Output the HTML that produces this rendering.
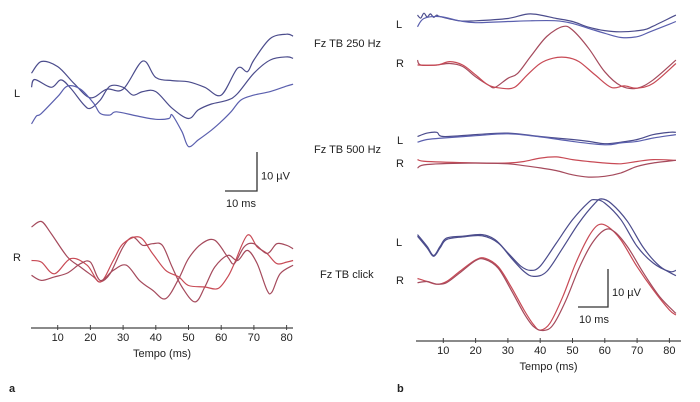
<!DOCTYPE html>
<html><head><meta charset="utf-8"><style>
body{margin:0;background:#fff;}
svg{display:block;font-family:"Liberation Sans",sans-serif;}
text{fill:#222;font-size:11px;}
</style></head><body>
<svg id="fig" width="700" height="402" viewBox="0 0 700 402"></svg>
<script>
// ---- Panel a data (ms, µV) ----
const aTicks=[10,20,30,40,50,60,70,80];
const aL1t=[2,5,10,15,20,25,30,36,40,45,50,55,60,65,68,70,75,80,82];
const aL1v=[4.3,7.3,6.0,1.7,-2.0,0.2,0.2,7.4,3.2,2.4,2.1,0.7,-1.3,5.6,4.7,7.7,13.2,14.3,13.8];
const aL2t=[2,3,8,11,14,18,20,23,26,30,33,36,40,45,50,53,57,62,65,70,75,80,82];
const aL2v=[0.7,2.7,0.7,2.6,0.4,-3.8,-4.7,-2.6,1.0,0.7,-1.3,-0.4,-0.4,-4.7,-7.3,-5.1,-3.6,-2.6,-0.9,4.3,7.7,8.5,8.1];
const aL3t=[2,3.5,5,10,13,17,21,23,26,28,35,40,44,45,48,50,53,57,60,63,66,70,75,80,82];
const aL3v=[-8.7,-6.7,-6.0,-1.7,1.0,0.2,-3.4,-6.0,-6.4,-5.6,-6.8,-7.5,-7.3,-6.4,-10.7,-14.5,-12.8,-10.3,-8.1,-5.6,-2.6,-1.3,-0.4,1.0,1.5];
const aR1t=[2,5,8,13,17,21,23,26,30,33,36,39,42,45,48,52,55,58,62,65,68,71,74,75.5,78,82];
const aR1v=[7.7,9.1,6.0,0,-2.6,-5.1,-6.4,-4.3,2.6,5.1,3.0,3.4,3.0,-2.6,-7.7,-11.5,-7.7,-2.6,0.4,-0.9,1.7,-1.7,-8.5,-9.0,-4.3,-2.1];
const aR2t=[2,5,9,14,19,23,27,30,35,39,43,47,50,55,59,62,64,68,71,74,77,80,82];
const aR2v=[-0.9,-1.3,-4.3,-0.4,-2.1,-6.4,-0.9,3.4,5.1,0.9,-3.4,-5.1,-7.3,-7.7,-8.1,-5.1,-1.7,5.6,2.6,0.9,-1.7,-1.3,-0.9];
const aR3t=[2,5,9,13,17,20,23,27,31,35,39,43,47,50,54,58,62,64,67,70,74,77,80,82];
const aR3v=[-4.7,-6.0,-5.1,-4.1,-1.7,-1.3,-6.0,-3.4,-2.1,-6.0,-8.5,-10.7,-5.6,-0.4,3.4,4.3,0,-1.7,2.6,3.4,0.9,3.4,3.0,2.1];
// ---- Panel b data ----
const bTicks=[10,20,30,40,50,60,70,80];
const b250L1t=[2,3,4,5,6,7,8,9,15,20,30,37,45,50,55,60,65,72,75,82];
const b250L1v=[1.3,0.5,1.8,0.8,1.6,0.7,1.3,0.9,-0.2,-0.2,0.4,1.6,0.4,-0.4,-1.9,-2.8,-3.1,-2.6,-1.6,1.3];
const b250L2t=[2,4,9,15,20,30,37,45,50,55,60,65,70,74,80,82];
const b250L2v=[-1.8,0.4,0.9,-0.2,-0.7,-0.4,-0.2,-0.2,-0.9,-2.2,-3.5,-4.6,-4.4,-3.1,-1.1,-0.4];
const b250R1t=[2,3,8,12,16,20,24,26,30,33,37,42,47,50,55,60,65,70,75,82];
const b250R1v=[1.3,0,0,0.4,-0.4,-3.1,-5.3,-5.9,-3.5,-2.2,2.2,7.5,10.1,9.2,4.4,-1.8,-5.5,-6.1,-3.9,1.3];
const b250R2t=[2,8,12,16,20,24,28,32,36,40,44,48,52,57,62,66,70,75,82];
const b250R2v=[0,0,0.9,0,-2.6,-5.3,-6.1,-5.9,-2.6,0.4,1.8,2.0,0.9,-2.6,-5.9,-5.5,-6.1,-4.8,0.4];
const b500L1t=[2,5,8,10,20,30,40,50,55,60,65,70,75,80,82];
const b500L1v=[0.4,1.3,1.5,0.4,0.9,1.3,0.4,-0.4,-0.9,-1.5,-1.1,-0.4,0.9,1.5,1.5];
const b500L2t=[2,5,10,20,30,40,50,60,65,70,75,82];
const b500L2v=[-1.1,-0.4,0,0.6,1.1,0.3,-0.9,-1.8,-1.3,-0.9,0,0.9];
const b500R1t=[2,5,20,30,35,40,45,50,55,60,65,70,75,82];
const b500R1v=[0.9,0.4,0,0,0.4,1.3,1.6,0.9,0.4,0,-0.2,0.4,0.9,0.7];
const b500R2t=[2,5,20,30,35,40,45,50,55,60,65,70,75,82];
const b500R2v=[-1.3,-0.4,0,-0.2,-0.7,-1.3,-2.0,-3.1,-3.7,-3.5,-2.6,-0.9,0,0.7];
const bClkL1t=[2,5,7,9,11,16,22,26,30,34,37,40,45,50,55,57,60,65,70,75,80,82];
const bClkL1v=[2.2,-0.9,-3.3,-0.9,1.3,1.8,2.2,0.9,-2.6,-6.1,-7.2,-6.1,0,6.1,10.7,11.4,10.5,6.1,-0.9,-5.3,-7.5,-7.2];
const bClkL2t=[2,5,7,9,11,16,22,27,31,35,38,42,47,52,57,59,62,67,72,77,82];
const bClkL2v=[1.8,-1.3,-3.5,-1.3,0.9,1.6,1.9,0,-3.9,-7.5,-8.8,-7.5,-1.3,5.3,10.5,11.6,10.4,5.7,-1.3,-6.1,-8.6];
const bClkR1t=[2,5,8,11,15,20,23,27,31,35,38,40,43,47,51,55,58,61,65,70,75,80,82];
const bClkR1v=[0.4,-0.4,-1.1,-0.4,2.2,5.3,5.7,3.5,-1.8,-7.9,-11.8,-13.2,-11.4,-4.4,4.4,11.4,14.5,14.0,10.5,3.5,-2.6,-7.9,-9.2];
const bClkR2t=[2,5,8,11,15,20,23,27,31,35,38,41,44,48,52,56,60,63,67,72,77,82];
const bClkR2v=[-0.7,-0.4,-1.1,-0.7,1.8,5.1,5.4,3.1,-2.6,-8.8,-12.3,-13.3,-11.8,-5.3,3.1,9.6,13.2,12.7,8.8,1.8,-4.4,-8.8];

const NS="http://www.w3.org/2000/svg";
const svg=document.getElementById('fig');
function mk(tag,attrs,parent){const e=document.createElementNS(NS,tag);for(const k in attrs)e.setAttribute(k,attrs[k]);(parent||svg).appendChild(e);return e;}
function txt(x,y,s,name,anchor){const t=mk('text',{x:x,y:y,'text-anchor':anchor||'start'});t.textContent=s;


return t;}
const axA=t=>25+3.27*t, axB=t=>411+3.23*t;
function yA(base){return v=>base-3.9*v;}
function yB(base){return v=>base-3.8*v;}
function smooth(pts){let d='M'+pts[0][0].toFixed(1)+','+pts[0][1].toFixed(1);
for(let i=0;i<pts.length-1;i++){const p0=pts[i-1]||pts[i],p1=pts[i],p2=pts[i+1],p3=pts[i+2]||p2;
const c1=[p1[0]+(p2[0]-p0[0])/6,p1[1]+(p2[1]-p0[1])/6],c2=[p2[0]-(p3[0]-p1[0])/6,p2[1]-(p3[1]-p1[1])/6];
d+='C'+c1.map(n=>n.toFixed(1))+' '+c2.map(n=>n.toFixed(1))+' '+p2.map(n=>n.toFixed(1));}return d;}
function trace(ts,vs,fx,fy,color,name){const pts=ts.map((t,i)=>[fx(t),fy(vs[i])]);
const p=mk('path',{d:smooth(pts),fill:'none',stroke:color,'stroke-width':1.2});

}
function axis(fx,y,ticks,x0,x1,labY,titleY,name){const g=mk('g',{});


mk('line',{x1:x0,x2:x1,y1:y,y2:y,stroke:'#444','stroke-width':1.2},g);
ticks.forEach(t=>{mk('line',{x1:fx(t),x2:fx(t),y1:y-3,y2:y+2,stroke:'#444','stroke-width':1},g);
const l=mk('text',{x:fx(t),y:labY,'text-anchor':'middle'},g);l.textContent=t;});
const tt=mk('text',{x:(x0+x1)/2,y:titleY,'text-anchor':'middle','font-size':12},g);tt.textContent='Tempo (ms)';}
function scalebar(x,yTop,yBot,len,nm){const g=mk('g',{});


mk('path',{d:`M${x},${yTop}V${yBot}H${x-len}`,fill:'none',stroke:'#333','stroke-width':1.3},g);
const a=mk('text',{x:x+4,y:(yTop+yBot)/2+8},g);a.textContent='10 µV';
const b=mk('text',{x:x-len+1,y:yBot+16},g);b.textContent='10 ms';}

const blue='#4b4c8c', blue2='#5a5fae', red='#a54a5c', red2='#c84a55';
// Panel a
const aLy=yA(90), aRy=yA(257);
trace(aL1t,aL1v,axA,aLy,blue,'a-left-trace-1');
trace(aL2t,aL2v,axA,aLy,blue,'a-left-trace-2');
trace(aL3t,aL3v,axA,aLy,blue2,'a-left-trace-3');
trace(aR1t,aR1v,axA,aRy,red,'a-right-trace-1');
trace(aR2t,aR2v,axA,aRy,red2,'a-right-trace-2');
trace(aR3t,aR3v,axA,aRy,red,'a-right-trace-3');
txt(14,97,'L','a-label-left');txt(13,261,'R','a-label-right');
scalebar(257,152,191,32,'a-scale-bar');
axis(axA,328,aTicks,31,293,341,357,'a-x-axis');
txt(9,392,'a','panel-label-a').setAttribute('font-weight','bold');
// Panel b
trace(b250L1t,b250L1v,axB,yB(20),blue,'b-250-left-trace-1');
trace(b250L2t,b250L2v,axB,yB(20),blue2,'b-250-left-trace-2');
trace(b250R1t,b250R1v,axB,yB(65),red,'b-250-right-trace-1');
trace(b250R2t,b250R2v,axB,yB(65),red2,'b-250-right-trace-2');
trace(b500L1t,b500L1v,axB,yB(138),blue,'b-500-left-trace-1');
trace(b500L2t,b500L2v,axB,yB(138),blue2,'b-500-left-trace-2');
trace(b500R1t,b500R1v,axB,yB(163),red2,'b-500-right-trace-1');
trace(b500R2t,b500R2v,axB,yB(163),red,'b-500-right-trace-2');
trace(bClkL1t,bClkL1v,axB,yB(243),blue,'b-click-left-trace-1');
trace(bClkL2t,bClkL2v,axB,yB(243),blue,'b-click-left-trace-2');
trace(bClkR1t,bClkR1v,axB,yB(280),red2,'b-click-right-trace-1');
trace(bClkR2t,bClkR2v,axB,yB(280),red,'b-click-right-trace-2');
txt(396,28,'L','b-250-label-left');txt(396,67,'R','b-250-label-right');
txt(397,144,'L','b-500-label-left');txt(396,167,'R','b-500-label-right');
txt(396,246,'L','b-click-label-left');txt(396,284,'R','b-click-label-right');
txt(314,47,'Fz TB 250 Hz','label-250hz');
txt(314,153,'Fz TB 500 Hz','label-500hz');
txt(320,278,'Fz TB click','label-click');
scalebar(608,269,307,30,'b-scale-bar');
axis(axB,341,bTicks,416,681,354,370,'b-x-axis');
txt(397,392,'b','panel-label-b').setAttribute('font-weight','bold');
</script>
</body></html>
